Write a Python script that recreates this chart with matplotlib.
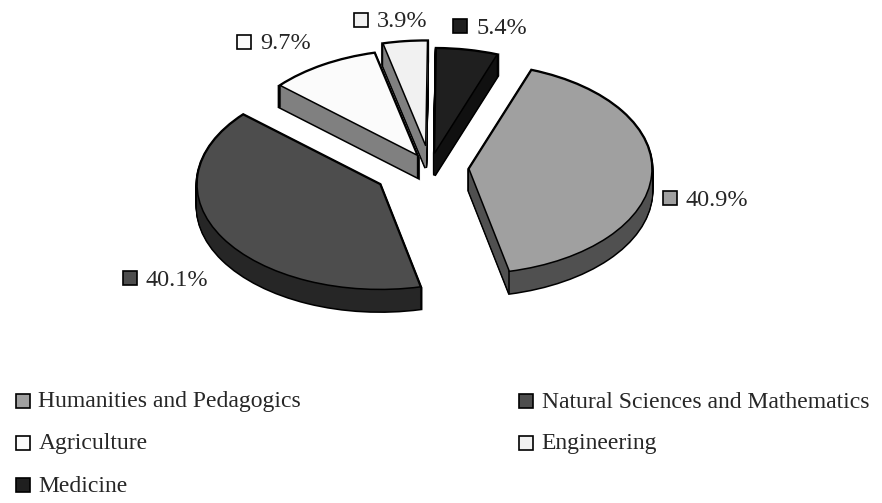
import math
import matplotlib as mpl
mpl.use('Agg')
import matplotlib.pyplot as plt
from matplotlib.patches import Rectangle

categories = ["Humanities and Pedagogics", "Natural Sciences and Mathematics",
              "Agriculture", "Engineering", "Medicine"]
shares = [40.9, 40.1, 9.7, 3.9, 5.4]

top_colors = ["#a0a0a0", "#4d4d4d", "#fbfbfb", "#f1f1f1", "#1f1f1f"]
wall_colors = ["#505050", "#262626", "#808080", "#808080", "#101010"]

# pixel layout of the picture
W, H = 882, 503
radius = 183
tilt = 105 / 183
cx, cy = 430, 167.5
depth = 22
explode = [39, 58, 25, 38, 25]

label_pos = [(669.5, 198), (130, 278), (244, 41.5), (360.5, 19.5), (460, 26)]
legend_pos = [(22.5, 400.5), (525.5, 400.5), (22.5, 442.5), (525.5, 442.5), (22.5, 484.5)]
text_color = "#262626"
lw = 1.1

plt.rcParams['font.family'] = ['Liberation Serif', 'DejaVu Serif']

fig = plt.figure(figsize=(W / 100, H / 100), dpi=100)
ax = fig.add_axes([0, 0, 1, 1])


def data_y(py):
    return (H - py) / tilt


def draw_pie(drop, colors, edge, width, z):
    wedges, _ = ax.pie(shares, colors=colors, explode=explode, radius=radius,
                       center=(cx, data_y(cy + drop)), startangle=70,
                       counterclock=False,
                       wedgeprops=dict(edgecolor=edge, linewidth=width, zorder=z))
    return wedges


# side walls: black silhouette first, then the fill over it
for drop in range(depth + 1):
    draw_pie(drop, wall_colors, "black", lw * 2, 1)
for drop in range(depth + 1):
    draw_pie(drop, wall_colors, "none", 0, 2)
top = draw_pie(0, top_colors, "black", lw, 3)

# front corner of the first slice
w = top[0]
corner_x = w.center[0] + radius * math.cos(math.radians(w.theta1))
corner_y = w.center[1] + radius * math.sin(math.radians(w.theta1))
ax.plot([corner_x, corner_x], [corner_y, corner_y - depth / tilt],
        color="black", lw=lw, zorder=2.5)

ax.set_aspect('auto')
ax.set_xlim(0, W)
ax.set_ylim(0, H / tilt)
ax.axis('off')

over = fig.add_axes([0, 0, 1, 1])
over.set_xlim(0, W)
over.set_ylim(H, 0)
over.axis('off')


def square(x, y, color):
    over.add_patch(Rectangle((x - 7, y - 7), 14, 14, facecolor=color,
                             edgecolor="black", linewidth=1.2))


for (x, y), share, color in zip(label_pos, shares, top_colors):
    square(x, y, color)
    over.text(x + 16, y + 2, f"{share}%", fontsize=17.5, color=text_color,
              ha='left', va='center')

for (x, y), name, color in zip(legend_pos, categories, top_colors):
    square(x, y, color)
    over.text(x + 16, y + 1.5, name, fontsize=17, color=text_color,
              ha='left', va='center')

fig.savefig("out.png", dpi=100)
